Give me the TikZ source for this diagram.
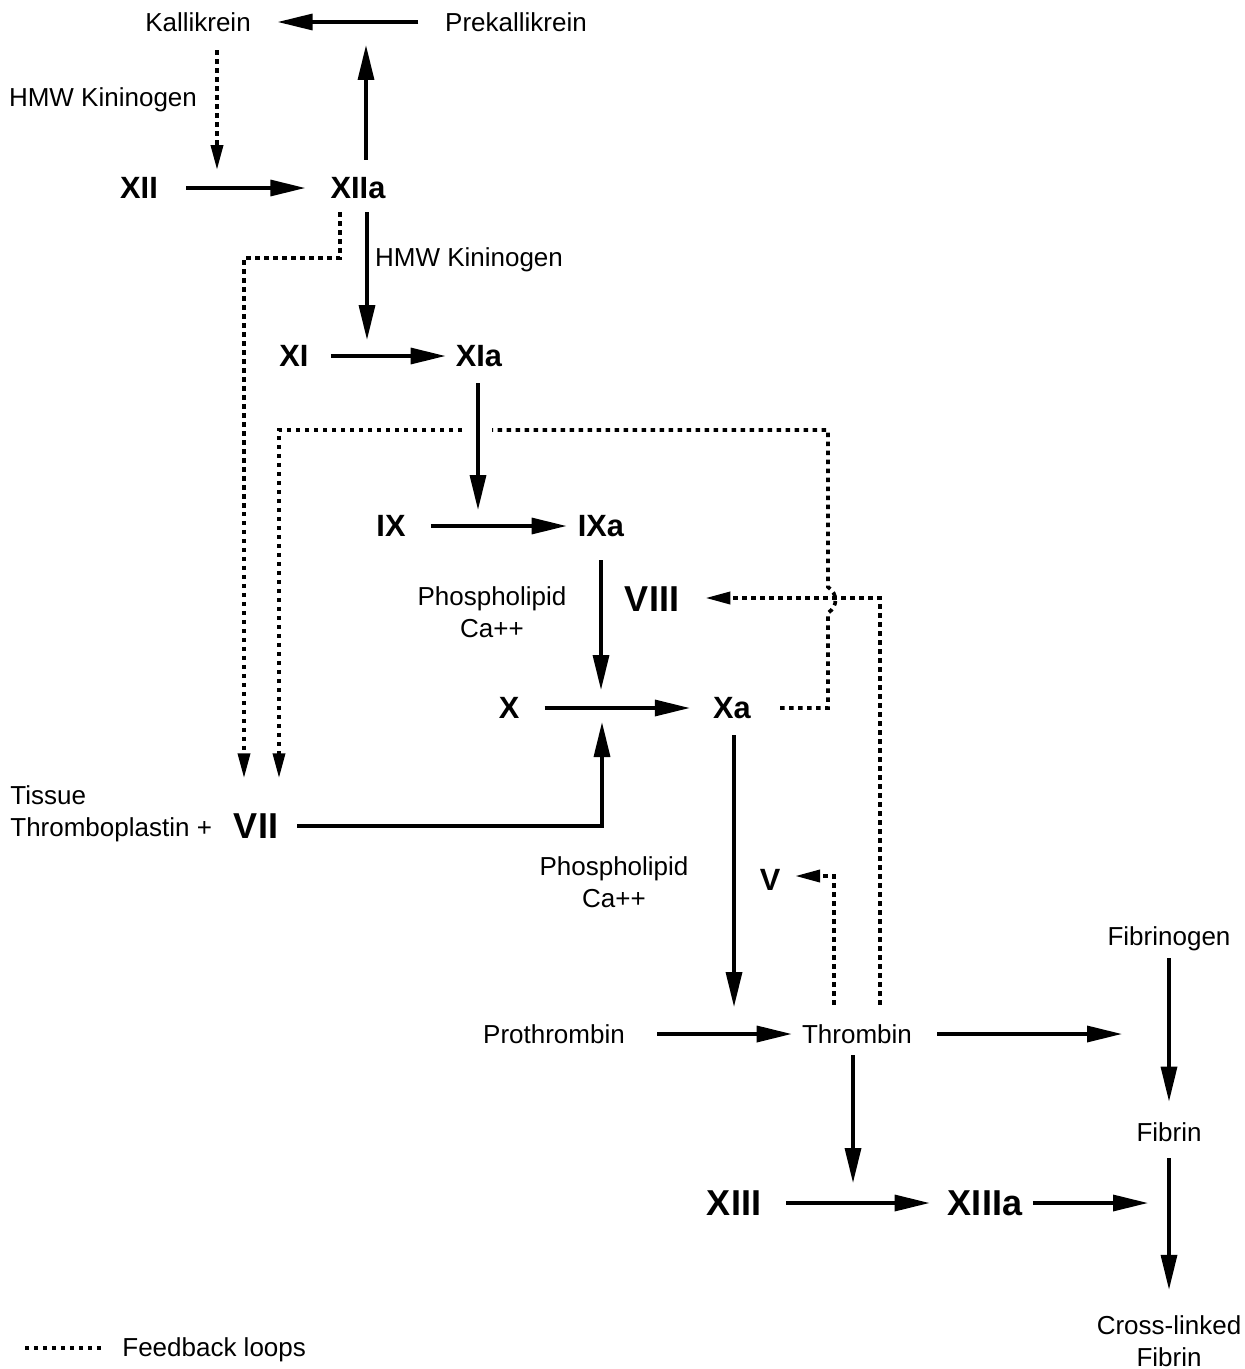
\documentclass[tikz,border=0pt]{standalone}
\usepackage{fontspec}
\setmainfont{Liberation Sans}
\usepackage{tikz}
\usetikzlibrary{arrows.meta}

\begin{document}
\begin{tikzpicture}[x=0.02cm, y=-0.02cm, >={Triangle[length=0.7cm,width=0.32cm]}, inner sep=2pt,
  lbl/.style={font=\fontsize{14.8}{18}\selectfont, align=center},
  fac/.style={font=\fontsize{17.5}{20}\selectfont\bfseries},
  bigfac/.style={font=\fontsize{20.5}{24}\selectfont\bfseries},
  arr/.style={->, line width=1.9pt},
  fb/.style={line width=2.1pt, dash pattern=on 0.09cm off 0.09cm},
  fbarr/.style={fb, -{Triangle[length=0.5cm,width=0.24cm]}}]
\useasboundingbox (0,0) rectangle (1244,1369);

\node[lbl] (kal) at (198,22) {Kallikrein};
\node[lbl] (prekal) at (516,22) {Prekallikrein};
\node[lbl] (hmw1) at (103,99.6) {HMW Kininogen};
\node[fac] (xii) at (139,188) {XII};
\node[fac] (xiia) at (358,188) {XIIa};
\node[lbl] (hmw2) at (469,259.6) {HMW Kininogen};
\node[fac] (xi) at (294,356) {XI};
\node[fac] (xia) at (479,356) {XIa};
\node[fac] (ix) at (391,526) {IX};
\node[fac] (ixa) at (601,526) {IXa};
\node[lbl] (pl1) at (492,612) {Phospholipid\\Ca++};
\node[bigfac] (viii) at (652,599) {VIII};
\node[fac] (x) at (509,708) {X};
\node[fac] (xa) at (732,708) {Xa};
\node[lbl, align=left, anchor=west] (tissue) at (6.5,813.6) {Tissue\\Thromboplastin +};
\node[bigfac] (vii) at (256,826) {VII};
\node[lbl] (pl2) at (614,882) {Phospholipid\\Ca++};
\node[fac] (v) at (770,880) {V};
\node[lbl] (fibgen) at (1169,939) {Fibrinogen};
\node[lbl] (prothr) at (554,1034) {Prothrombin};
\node[lbl] (thr) at (857,1034) {Thrombin};
\node[lbl] (fibrin) at (1169,1132) {Fibrin};
\node[bigfac] (xiii) at (734,1203) {XIII};
\node[bigfac] (xiiia) at (985,1203) {XIIIa};
\node[lbl] (xfib) at (1169,1341) {Cross-linked\\Fibrin};
\node[lbl, anchor=west] (legend) at (118.5,1349.6) {Feedback loops};

% free ends
\coordinate (kup) at (366,45);
\coordinate (kdn) at (217,170);
\coordinate (xidn) at (367,340);
\coordinate (ixdn) at (478,510);
\coordinate (xdn) at (601,690);
\coordinate (xup) at (602,722);
\coordinate (thdn) at (734,1007);
\coordinate (xiiidn) at (853,1183);
\coordinate (thrR) at (1122,1034);
\coordinate (xiiiaR) at (1148,1203);

\path
(prekal) edge[arr, shorten <=0.46cm, shorten >=0.46cm] (kal)
(xii) edge[arr, shorten <=0.49cm, shorten >=0.43cm] (xiia)
(xi) edge[arr, shorten <=0.37cm, shorten >=0.13cm] (xia)
(ix) edge[arr, shorten <=0.43cm, shorten >=0.15cm] (ixa)
(x) edge[arr, shorten <=0.43cm, shorten >=0.39cm] (xa)
(prothr) edge[arr, shorten <=0.57cm, shorten >=0.13cm] (thr)
(thr) edge[arr, shorten <=0.43cm] (thrR)
(xiii) edge[arr, shorten <=0.43cm, shorten >=0.29cm] (xiiia)
(xiiia) edge[arr, shorten <=0.14cm] (xiiiaR)
(fibgen) edge[arr, shorten <=0.07cm, shorten >=0.34cm] (fibrin)
(fibrin) edge[arr, shorten <=0.26cm, shorten >=0.44cm] (xfib);

\draw[arr, shorten <=0.27cm] (xiia.north -| kup) -- (kup);
\draw[fbarr, shorten <=0.3cm] (kal.south -| kdn) -- (kdn);
\draw[arr, shorten <=0.19cm] (xiia.south -| xidn) -- (xidn);
\draw[arr, shorten <=0.25cm] (xia.south -| ixdn) -- (ixdn);
\draw[arr, shorten <=0.39cm] (ixa.south -| xdn) -- (xdn);
\draw[arr, shorten <=0.31cm] (vii.east) -- (vii.east -| xup) -- (xup);
\draw[arr, shorten <=0.25cm] (xa.south -| thdn) -- (thdn);
\draw[arr, shorten <=0.16cm] (thr.south -| xiiidn) -- (xiiidn);

% feedback loops
\coordinate (f1a) at (340,258);
\coordinate (f1b) at (244,258);
\draw[fbarr, shorten <=0.19cm, shorten >=0.63cm] (xiia.south -| f1a) -- (f1a) -- (f1b) -- (f1b |- vii.north);

\coordinate (f2a) at (828,708);
\coordinate (f2b) at (828,613);
\coordinate (f2c) at (828,587);
\coordinate (f2d) at (828,430);
\coordinate (f2e) at (492,430);
\coordinate (f2f) at (462,430);
\coordinate (f2g) at (279,430);
\draw[fb, shorten <=0.51cm] (xa.east) -- (f2a) -- (f2b) .. controls (838,606) and (838,594) .. (f2c) -- (f2d) -- (f2e);
\draw[fbarr, shorten >=0.63cm] (f2f) -- (f2g) -- (f2g |- vii.north);

\coordinate (f3) at (880,598);
\draw[fbarr, shorten <=0.32cm, shorten >=0.45cm] (thr.north -| f3) -- (f3) -- (f3 -| viii.east);
\coordinate (f4) at (834,876);
\draw[fbarr, shorten <=0.32cm, shorten >=0.22cm] (thr.north -| f4) -- (f4) -- (f4 -| v.east);

\coordinate (legA) at (25,1348);
\coordinate (legB) at (105,1348);
\draw[fb] (legA) -- (legB);
\end{tikzpicture}
\end{document}
